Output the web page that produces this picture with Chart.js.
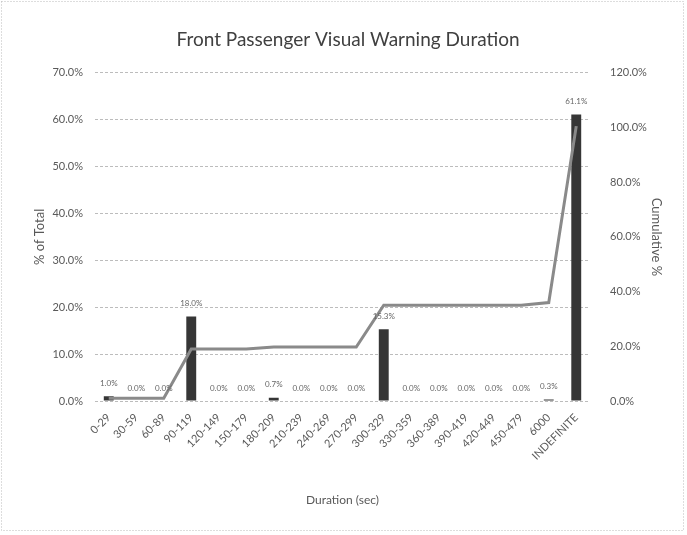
<!DOCTYPE html>
<html>
<head>
<meta charset="utf-8">
<script src="https://cdn.jsdelivr.net/npm/chart.js@4/dist/chart.umd.min.js"></script>
<style>
  html, body { margin: 0; padding: 0; background: #fff; }
  #wrap { width: 687px; height: 535px; position: relative; }
</style>
</head>
<body>
<div id="wrap"><canvas id="c"></canvas></div>
<script>
/* data */
const cats = ['0-29', '30-59', '60-89', '90-119', '120-149', '150-179', '180-209', '210-239', '240-269',
  '270-299', '300-329', '330-359', '360-389', '390-419', '420-449', '450-479', '6000', 'INDEFINITE'];
const pctTotal = [1.0, 0, 0, 18.0, 0, 0, 0.7, 0, 0, 0, 15.3, 0, 0, 0, 0, 0, 0.3, 61.1];
const cumPct   = [1.0, 1.0, 1.0, 19.0, 19.0, 19.0, 19.7, 19.7, 19.7, 19.7, 35.0, 35.0, 35.0, 35.0, 35.0, 35.0, 36.0, 100.5];
const leftTicks  = [0, 10, 20, 30, 40, 50, 60, 70];
const rightTicks = [0, 20, 40, 60, 80, 100, 120];

const FONT = 'Lato, "Open Sans", sans-serif';
const txt = '#595959';

// value labels over the bars
const barLabels = {
  id: 'barLabels',
  afterDatasetsDraw(chart) {
    const ctx = chart.ctx, meta = chart.getDatasetMeta(1);
    ctx.save();
    ctx.font = '8px ' + FONT;
    ctx.fillStyle = '#666';
    ctx.textAlign = 'center';
    ctx.textBaseline = 'bottom';
    meta.data.forEach((b, i) => {
      ctx.fillText(pctTotal[i].toFixed(1) + '%', b.x, b.y - 9);
    });
    ctx.restore();
  }
};

// dotted frame round the chart
const frame = {
  id: 'frame',
  beforeDraw(chart) {
    const ctx = chart.ctx;
    ctx.save();
    ctx.strokeStyle = '#bbb';
    ctx.setLineDash([1, 2]);
    ctx.lineWidth = 1;
    ctx.strokeRect(1.5, 1.5, 682, 529);
    ctx.restore();
  }
};

new Chart(document.getElementById('c'), {
  data: {
    labels: cats,
    datasets: [
      { type: 'line', label: 'Cumulative %', data: cumPct, yAxisID: 'y2', borderColor: '#8a8a8a', borderWidth: 3,
        pointRadius: 0, tension: 0, order: 1 },
      { type: 'bar', label: '% of Total', data: pctTotal, yAxisID: 'y', backgroundColor: '#363636',
        categoryPercentage: 1, barPercentage: 0.36, order: 2 },
    ]
  },
  options: {
    responsive: true,
    maintainAspectRatio: false,
    animation: false,
    layout: { padding: { top: 22, left: 32, right: 23, bottom: 24 } },
    plugins: {
      legend: { display: false },
      tooltip: { enabled: false },
      title: { display: true, text: 'Front Passenger Visual Warning Duration', color: '#404040',
        font: { family: FONT, size: 19, weight: 'normal' }, padding: { top: 6, bottom: 22 } }
    },
    scales: {
      x: {
        grid: { display: false },
        border: { display: false },
        ticks: { color: txt, font: { family: FONT, size: 11 }, minRotation: 45, maxRotation: 45, autoSkip: false, padding: 2 },
        title: { display: true, text: 'Duration (sec)', color: txt, font: { family: FONT, size: 12 }, padding: { top: 14 } },
        afterFit(s) { s.height = 110; }
      },
      y: {
        position: 'left', min: 0, max: 70,
        afterBuildTicks(s) { s.ticks = leftTicks.map(v => ({ value: v })); },
        grid: { color: '#bcbcbc', drawTicks: false },
        border: { display: false, dash: [3, 2] },
        ticks: { color: txt, font: { family: FONT, size: 11 }, padding: 12, callback: v => v.toFixed(1) + '%' },
        title: { display: true, text: '% of Total', color: txt, font: { family: FONT, size: 13 }, padding: 0 },
        afterFit(s) { s.width = 63; }
      },
      y2: {
        position: 'right', min: 0, max: 120,
        afterBuildTicks(s) { s.ticks = rightTicks.map(v => ({ value: v })); },
        grid: { display: false },
        border: { display: false },
        ticks: { color: txt, font: { family: FONT, size: 11 }, padding: 12, callback: v => v.toFixed(1) + '%' },
        title: { display: true, text: 'Cumulative %', color: txt, font: { family: FONT, size: 13 }, padding: 0 },
        afterFit(s) { s.width = 74; }
      }
    }
  },
  plugins: [frame, barLabels]
});
</script>
</body>
</html>
